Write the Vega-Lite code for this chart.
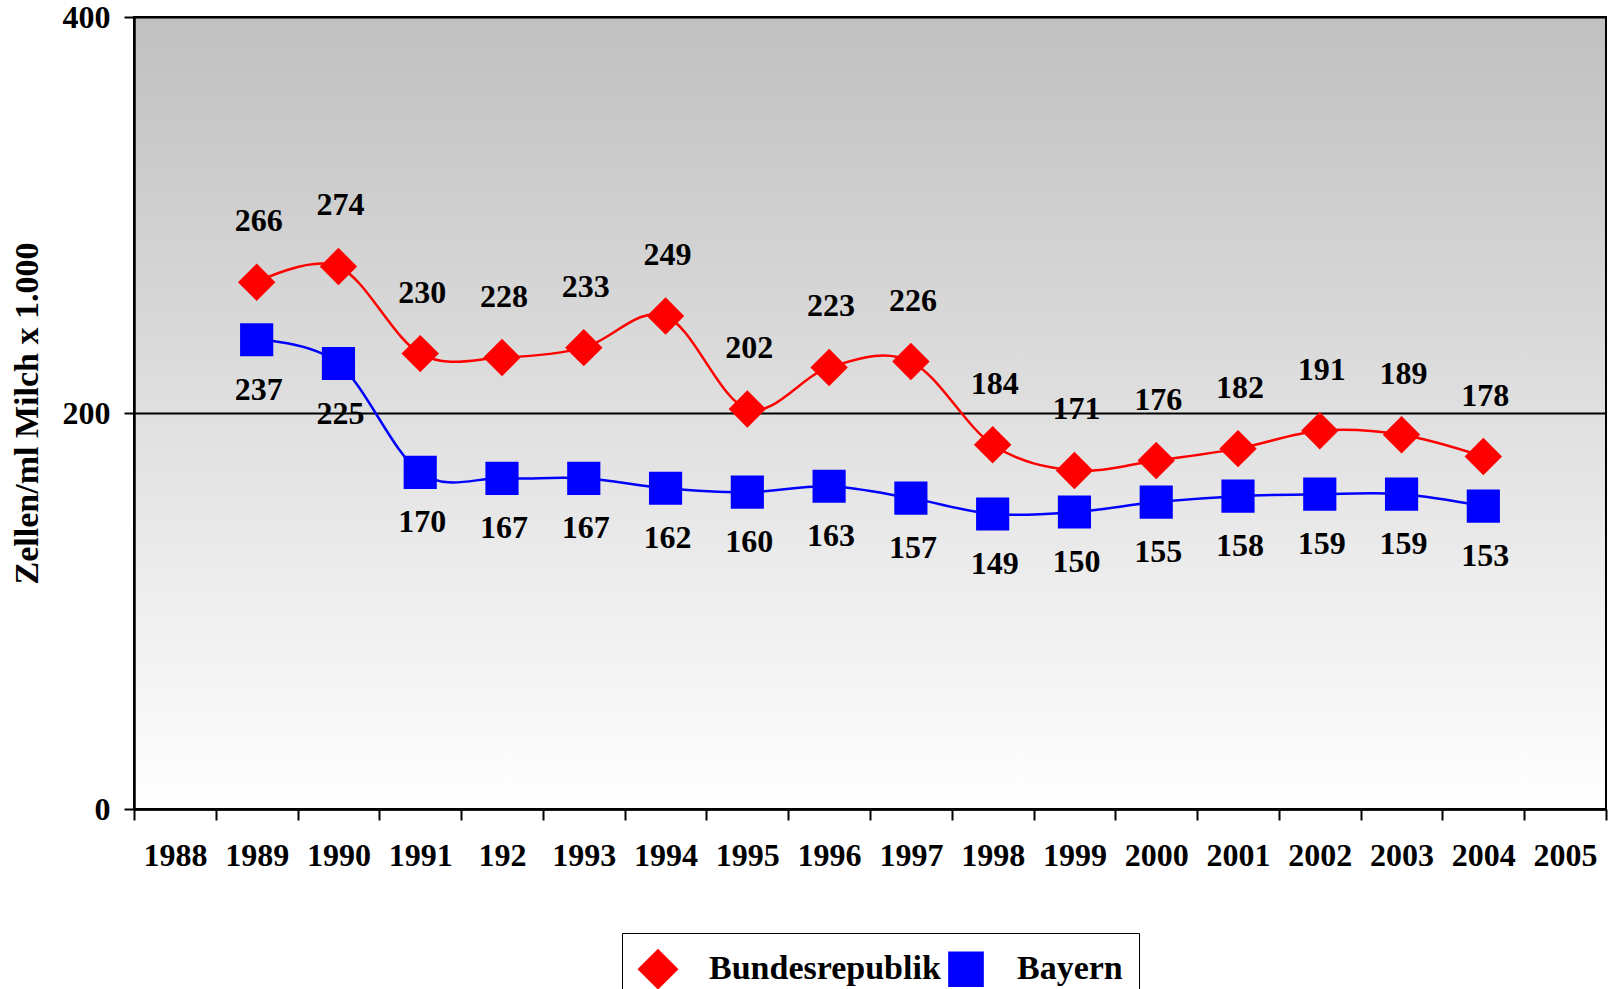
{
  "$schema": "https://vega.github.io/schema/vega-lite/v6.json",
  "width": 1472,
  "height": 792,
  "autosize": "none",
  "padding": {"left": 134, "top": 17, "right": 3, "bottom": 180},
  "background": "white",
  "config": {
    "view": {
      "stroke": "black",
      "strokeWidth": 2,
      "fill": {"gradient": "linear", "x1": 0, "y1": 0, "x2": 0, "y2": 1,
        "stops": [{"offset": 0, "color": "#c0c0c0"}, {"offset": 1, "color": "#ffffff"}]}
    },
    "font": "Liberation Serif"
  },
  "data": {
    "values": [
      {"year": "1989", "series": "Bundesrepublik", "value": 266},
      {"year": "1990", "series": "Bundesrepublik", "value": 274},
      {"year": "1991", "series": "Bundesrepublik", "value": 230},
      {"year": "192", "series": "Bundesrepublik", "value": 228},
      {"year": "1993", "series": "Bundesrepublik", "value": 233},
      {"year": "1994", "series": "Bundesrepublik", "value": 249},
      {"year": "1995", "series": "Bundesrepublik", "value": 202},
      {"year": "1996", "series": "Bundesrepublik", "value": 223},
      {"year": "1997", "series": "Bundesrepublik", "value": 226},
      {"year": "1998", "series": "Bundesrepublik", "value": 184},
      {"year": "1999", "series": "Bundesrepublik", "value": 171},
      {"year": "2000", "series": "Bundesrepublik", "value": 176},
      {"year": "2001", "series": "Bundesrepublik", "value": 182},
      {"year": "2002", "series": "Bundesrepublik", "value": 191},
      {"year": "2003", "series": "Bundesrepublik", "value": 189},
      {"year": "2004", "series": "Bundesrepublik", "value": 178},
      {"year": "1989", "series": "Bayern", "value": 237},
      {"year": "1990", "series": "Bayern", "value": 225},
      {"year": "1991", "series": "Bayern", "value": 170},
      {"year": "192", "series": "Bayern", "value": 167},
      {"year": "1993", "series": "Bayern", "value": 167},
      {"year": "1994", "series": "Bayern", "value": 162},
      {"year": "1995", "series": "Bayern", "value": 160},
      {"year": "1996", "series": "Bayern", "value": 163},
      {"year": "1997", "series": "Bayern", "value": 157},
      {"year": "1998", "series": "Bayern", "value": 149},
      {"year": "1999", "series": "Bayern", "value": 150},
      {"year": "2000", "series": "Bayern", "value": 155},
      {"year": "2001", "series": "Bayern", "value": 158},
      {"year": "2002", "series": "Bayern", "value": 159},
      {"year": "2003", "series": "Bayern", "value": 159},
      {"year": "2004", "series": "Bayern", "value": 153}
    ]
  },
  "encoding": {
    "x": {
      "field": "year", "type": "nominal", "sort": null,
      "scale": {
        "type": "band",
        "domain": ["1988", "1989", "1990", "1991", "192", "1993", "1994", "1995", "1996", "1997", "1998", "1999", "2000", "2001", "2002", "2003", "2004", "2005"],
        "paddingInner": 0, "paddingOuter": 0
      },
      "axis": {
        "title": null, "labelAngle": 0, "tickBand": "extent", "grid": false,
        "domainColor": "black", "domainWidth": 2.5,
        "tickColor": "black", "tickWidth": 2, "tickSize": 11,
        "labelFont": "Liberation Serif", "labelFontSize": 32, "labelFontWeight": "bold",
        "labelColor": "black", "labelPadding": 20
      }
    },
    "y": {
      "field": "value", "type": "quantitative",
      "scale": {"domain": [0, 400], "nice": false},
      "axis": {
        "values": [0, 200, 400], "grid": true, "gridColor": "black", "gridWidth": 2, "gridOpacity": 1,
        "domainColor": "black", "domainWidth": 2.5,
        "tickColor": "black", "tickWidth": 2, "tickSize": 10,
        "labelFont": "Liberation Serif", "labelFontSize": 32, "labelFontWeight": "bold",
        "labelColor": "black", "labelPadding": 14,
        "title": "Zellen/ml Milch x 1.000", "titleFont": "Liberation Serif", "titleFontSize": 34,
        "titleFontWeight": "bold", "titleColor": "black", "titlePadding": 18
      }
    },
    "color": {
      "field": "series", "type": "nominal",
      "scale": {"domain": ["Bundesrepublik", "Bayern"], "range": ["#ff0000", "#0000ff"]},
      "legend": {
        "title": null, "orient": "none", "legendX": 488, "legendY": 916,
        "direction": "horizontal", "columns": 2,
        "strokeColor": "black", "fillColor": "white", "padding": 16,
        "labelFont": "Liberation Serif", "labelFontSize": 34, "labelFontWeight": "bold",
        "labelColor": "black", "labelOffset": 31, "columnPadding": 3, "labelLimit": 600,
        "symbolSize": 1600, "symbolStrokeWidth": 2.5, "symbolOpacity": 1,
        "encode": {
          "symbols": {
            "update": {
              "shape": {"value": {"expr": "datum.value === 'Bayern' ? 'M-1.25,0L2.25,0M-0.05,-0.7L1.05,-0.7L1.05,0.7L-0.05,0.7Z' : 'M-1.25,0L2.25,0M-0.025,0L0.5,-0.675L1.025,0L0.5,0.675Z'"}},
              "stroke": {"value": {"expr": "datum.value === 'Bayern' ? '#0000ff' : '#ff0000'"}},
              "strokeWidth": {"value": 2.5}
            }
          }
        }
      }
    }
  },
  "layer": [
    {
      "mark": {"type": "line", "interpolate": "cardinal", "strokeWidth": 2.5}
    },
    {
      "mark": {"type": "point", "filled": true, "opacity": 1},
      "encoding": {
        "shape": {"field": "series", "type": "nominal",
          "scale": {"domain": ["Bundesrepublik", "Bayern"], "range": ["diamond", "square"]}, "legend": null},
        "size": {"field": "series", "type": "nominal",
          "scale": {"domain": ["Bundesrepublik", "Bayern"], "range": [1400, 1100]}, "legend": null}
      }
    },
    {
      "transform": [{"filter": "datum.series === 'Bundesrepublik'"}],
      "mark": {"type": "text", "dy": -61, "dx": 2, "fontSize": 32, "fontWeight": "bold", "font": "Liberation Serif", "baseline": "middle", "align": "center"},
      "encoding": {"text": {"field": "value"}, "color": {"value": "black"}}
    },
    {
      "transform": [{"filter": "datum.series === 'Bayern'"}],
      "mark": {"type": "text", "dy": 50, "dx": 2, "fontSize": 32, "fontWeight": "bold", "font": "Liberation Serif", "baseline": "middle", "align": "center"},
      "encoding": {"text": {"field": "value"}, "color": {"value": "black"}}
    }
  ]
}
